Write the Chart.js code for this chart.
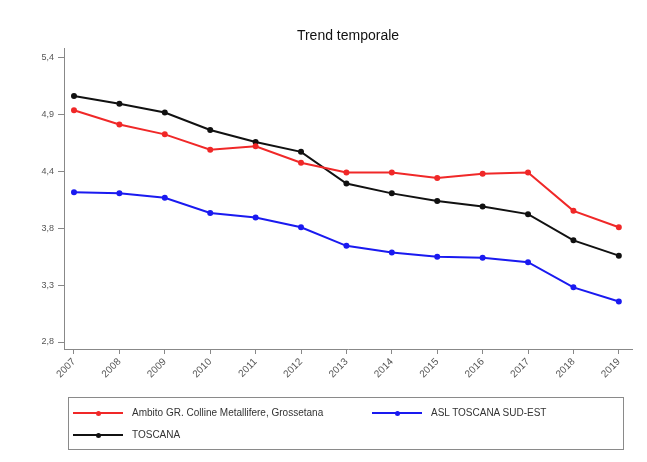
<!DOCTYPE html>
<html>
<head>
<meta charset="utf-8">
<script src="https://cdn.jsdelivr.net/npm/chart.js@4"></script>
<style>
  html, body { margin: 0; padding: 0; background: #fff; }
  #wrap { position: relative; width: 647px; height: 462px; }
  #legend {
    position: absolute; left: 68px; top: 397px; width: 554px; height: 51px;
    border: 1px solid #8a8a8a; font-family: "Liberation Sans", Arial, sans-serif;
    font-size: 10px; color: #333;
  }
  .item { position: absolute; height: 12px; line-height: 12px; white-space: nowrap; }
  .sample { position: absolute; left: 0; top: 5px; width: 50px; height: 2px; }
  .dot { position: absolute; left: 23px; top: -1.5px; width: 5px; height: 5px; border-radius: 2.5px; }
  .txt { position: absolute; left: 59px; top: 0; }
</style>
</head>
<body>
<div id="wrap">
  <canvas id="myChart" width="647" height="462"></canvas>
  <div id="legend"></div>
</div>
<script>
const years = [2007, 2008, 2009, 2010, 2011, 2012, 2013, 2014, 2015, 2016, 2017, 2018, 2019];

const ambitoGR = [4.92, 4.79, 4.70, 4.56, 4.59, 4.44, 4.35, 4.35, 4.30, 4.34, 4.35, 4.00, 3.85];
const aslSudEst = [4.17, 4.16, 4.12, 3.98, 3.94, 3.85, 3.68, 3.62, 3.58, 3.57, 3.53, 3.30, 3.17];
const toscana = [5.05, 4.98, 4.90, 4.74, 4.63, 4.54, 4.25, 4.16, 4.09, 4.04, 3.97, 3.73, 3.59];

const yTickValues = [2.8, 3.32, 3.84, 4.36, 4.88, 5.4];
const yTickLabels = ['2,8', '3,3', '3,8', '4,4', '4,9', '5,4'];

const seriesNames = ['Ambito GR. Colline Metallifere, Grossetana', 'ASL TOSCANA SUD-EST', 'TOSCANA'];
const COLORS = ['#f02828', '#1a1af0', '#111111'];

const FONT = 'Liberation Sans';
const TITLE = 'Trend temporale';

function toPoints(vals) {
    return vals.map((v, i) => ({ x: years[i], y: v }));
}

const datasets = [ambitoGR, aslSudEst, toscana].map((vals, i) => ({
    label: seriesNames[i],
    data: toPoints(vals),
    borderColor: COLORS[i],
    backgroundColor: COLORS[i],
    borderWidth: 2,
    pointRadius: 2,
    pointStyle: 'circle',
    tension: 0
}));

// title centred over the plot region, like the original
const plotTitle = {
    id: 'plotTitle',
    afterDraw(chart) {
        const { ctx, chartArea } = chart;
        ctx.save();
        ctx.font = `14px "${FONT}"`;
        ctx.fillStyle = '#111';
        ctx.textAlign = 'center';
        ctx.textBaseline = 'middle';
        ctx.fillText(TITLE, (chartArea.left + chartArea.right) / 2, 36);
        ctx.restore();
    }
};

const ctx = document.getElementById('myChart').getContext('2d');
new Chart(ctx, {
    type: 'line',
    data: { datasets: datasets },
    plugins: [plotTitle],
    options: {
        responsive: false,
        animation: false,
        devicePixelRatio: 1,
        layout: { padding: { left: 0, right: 15, top: 48, bottom: 0 } },
        plugins: {
            legend: { display: false },
            tooltip: { enabled: false },
            title: { display: false }
        },
        scales: {
            x: {
                type: 'linear',
                min: 2006.78,
                max: 2019.29,
                afterBuildTicks: s => { s.ticks = years.map(v => ({ value: v })); },
                afterFit: s => { s.height = 113; },
                ticks: {
                    autoSkip: false,
                    maxRotation: 45,
                    minRotation: 45,
                    padding: 2,
                    color: '#555',
                    font: { family: FONT, size: 10 },
                    callback: v => String(v)
                },
                grid: { drawOnChartArea: false, drawTicks: true, tickLength: 5, color: '#888' },
                border: { color: '#888', width: 1 }
            },
            y: {
                type: 'linear',
                min: 2.736,
                max: 5.49,
                afterBuildTicks: s => { s.ticks = yTickValues.map(v => ({ value: v })); },
                afterFit: s => { s.width = 64; },
                ticks: {
                    padding: 4,
                    color: '#555',
                    font: { family: FONT, size: 9 },
                    callback: (v, i) => yTickLabels[i]
                },
                grid: { drawOnChartArea: false, drawTicks: true, tickLength: 6, color: '#888' },
                border: { color: '#888', width: 1 }
            }
        }
    }
});

// legend box, built from the same series
const legend = document.getElementById('legend');
const spots = [[4, 15], [303, 15], [4, 37]];
seriesNames.forEach((name, i) => {
    const item = document.createElement('div');
    item.className = 'item';
    item.style.left = spots[i][0] + 'px';
    item.style.top = (spots[i][1] - 6) + 'px';
    item.innerHTML = `<span class="sample" style="background:${COLORS[i]}"><span class="dot" style="background:${COLORS[i]}"></span></span><span class="txt">${name}</span>`;
    legend.appendChild(item);
});
</script>
</body>
</html>
